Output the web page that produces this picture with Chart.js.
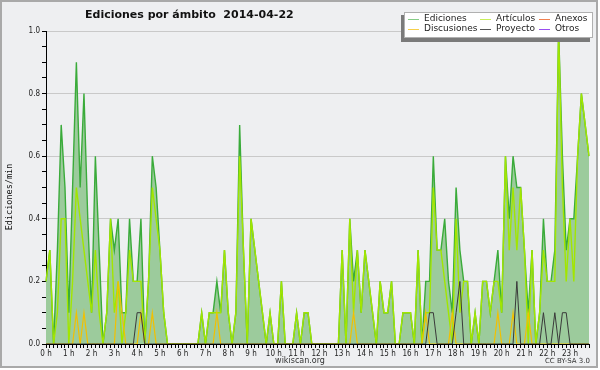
<!DOCTYPE html>
<html>
<head>
<meta charset="utf-8">
<script src="https://cdn.jsdelivr.net/npm/chart.js@4.4.1/dist/chart.umd.min.js"></script>
<style>
  html, body { margin: 0; padding: 0; background: #fff; }
  canvas { display: block; }
</style>
</head>
<body>
<canvas id="chart" width="600" height="370"></canvas>
<script>
// one slot every 10 minutes, 00:00 .. 23:50
const slots = Array.from({ length: 144 }, (_, i) =>
  String(Math.floor(i / 6)).padStart(2, "0") + ":" + String((i % 6) * 10).padStart(2, "0"));

// edits per minute
const ediciones = [
  0.2, 0.3, 0, 0.3, 0.7, 0.5, 0.1, 0.5, 0.9, 0.5,
  0.8, 0.4, 0.1, 0.6, 0.3, 0, 0.1, 0.4, 0.3, 0.4,
  0.1, 0.1, 0.4, 0.2, 0.2, 0.4, 0, 0.2, 0.6, 0.5,
  0.3, 0.1, 0, 0, 0, 0, 0, 0, 0, 0,
  0, 0.1, 0, 0.1, 0.1, 0.2, 0.1, 0.3, 0.1, 0,
  0.1, 0.7, 0.3, 0, 0.4, 0.3, 0.2, 0.1, 0, 0.1,
  0, 0, 0.2, 0, 0, 0, 0.1, 0, 0.1, 0.1,
  0, 0, 0, 0, 0, 0, 0, 0, 0.3, 0,
  0.4, 0.2, 0.3, 0.1, 0.3, 0.2, 0.1, 0, 0.2, 0.1,
  0.1, 0.2, 0, 0, 0.1, 0.1, 0.1, 0, 0.3, 0,
  0.2, 0.2, 0.6, 0.3, 0.3, 0.4, 0.2, 0.1, 0.5, 0.3,
  0.2, 0.2, 0, 0.1, 0, 0.2, 0.2, 0.1, 0.2, 0.3,
  0.1, 0.6, 0.4, 0.6, 0.5, 0.5, 0.3, 0.1, 0.3, 0,
  0.1, 0.4, 0.2, 0.2, 0.3, 1.0, 0.6, 0.3, 0.4, 0.4,
  0.6, 0.8, 0.7, 0.6
];

const articulos = [
  0.2, 0.3, 0, 0.1, 0.4, 0.4, 0, 0.2, 0.5, 0.4,
  0.3, 0.2, 0.1, 0.3, 0.1, 0, 0.1, 0.4, 0.1, 0.2,
  0, 0.1, 0.3, 0.2, 0.2, 0.2, 0, 0.2, 0.5, 0.4,
  0.3, 0.1, 0, 0, 0, 0, 0, 0, 0, 0,
  0, 0.1, 0, 0.1, 0.1, 0.1, 0.1, 0.3, 0.1, 0,
  0.1, 0.6, 0.3, 0, 0.4, 0.3, 0.2, 0.1, 0, 0.1,
  0, 0, 0.2, 0, 0, 0, 0.1, 0, 0.1, 0.1,
  0, 0, 0, 0, 0, 0, 0, 0, 0.3, 0,
  0.4, 0.1, 0.3, 0.1, 0.3, 0.2, 0.1, 0, 0.2, 0.1,
  0.1, 0.2, 0, 0, 0.1, 0.1, 0.1, 0, 0.3, 0,
  0.1, 0.1, 0.5, 0.3, 0.3, 0.2, 0.1, 0, 0.4, 0.1,
  0.2, 0.2, 0, 0.1, 0, 0.2, 0.2, 0.1, 0.2, 0.2,
  0.1, 0.6, 0.3, 0.5, 0.3, 0.5, 0.3, 0, 0.3, 0,
  0.1, 0.3, 0.2, 0.2, 0.2, 1.0, 0.5, 0.2, 0.4, 0.2,
  0.6, 0.8, 0.7, 0.6
];

const discusiones = [
  0, 0, 0, 0, 0, 0, 0, 0, 0.1, 0,
  0.1, 0, 0, 0, 0, 0, 0, 0, 0, 0.2,
  0.1, 0, 0, 0, 0, 0.1, 0, 0, 0.1, 0,
  0, 0, 0, 0, 0, 0, 0, 0, 0, 0,
  0, 0, 0, 0, 0, 0.1, 0, 0, 0, 0,
  0, 0, 0, 0, 0, 0, 0, 0, 0, 0,
  0, 0, 0, 0, 0, 0, 0, 0, 0, 0,
  0, 0, 0, 0, 0, 0, 0, 0, 0, 0,
  0, 0.1, 0, 0, 0, 0, 0, 0, 0, 0,
  0, 0, 0, 0, 0, 0, 0, 0, 0, 0,
  0.1, 0, 0, 0, 0, 0, 0, 0.1, 0, 0,
  0, 0, 0, 0, 0, 0, 0, 0, 0, 0.1,
  0, 0, 0, 0.1, 0, 0, 0, 0.1, 0, 0,
  0, 0, 0, 0, 0, 0, 0, 0, 0, 0,
  0, 0, 0, 0
];

const proyecto = [
  0, 0, 0, 0, 0, 0, 0, 0, 0, 0,
  0, 0, 0, 0, 0, 0, 0, 0, 0, 0,
  0, 0, 0, 0, 0.1, 0.1, 0, 0, 0, 0,
  0, 0, 0, 0, 0, 0, 0, 0, 0, 0,
  0, 0, 0, 0, 0, 0, 0, 0, 0, 0,
  0, 0, 0, 0, 0, 0, 0, 0, 0, 0,
  0, 0, 0, 0, 0, 0, 0, 0, 0, 0,
  0, 0, 0, 0, 0, 0, 0, 0, 0, 0,
  0, 0, 0, 0, 0, 0, 0, 0, 0, 0,
  0, 0, 0, 0, 0, 0, 0, 0, 0, 0,
  0, 0.1, 0.1, 0, 0, 0, 0, 0, 0.1, 0.2,
  0, 0, 0, 0, 0, 0, 0, 0, 0, 0,
  0, 0, 0, 0, 0.2, 0, 0, 0, 0, 0,
  0, 0.1, 0, 0, 0.1, 0, 0.1, 0.1, 0, 0,
  0, 0, 0, 0
];

// nothing visible for these two on this day
const anexos = [];
const otros = [];

const yTicks = [0, 0.2, 0.4, 0.6, 0.8, 1.0];

const SANS = "'DejaVu Sans', sans-serif";
const NARROW = "'DejaVu Sans Condensed', 'Liberation Sans Narrow', 'DejaVu Sans', sans-serif";
const MONO = "'DejaVu Sans Mono', monospace";

const isMajor = (v) => yTicks.some((t) => Math.abs(t - v) < 1e-6);

// frame, title, axis title, footer and boxed legend
const decorations = {
  id: "decorations",
  beforeDraw(chart) {
    const c = chart.ctx;
    c.save();
    c.fillStyle = "#ffffff";
    c.fillRect(0, 0, 600, 370);
    c.fillStyle = "#eeeff1";
    c.fillRect(0, 0, 598, 368);
    c.strokeStyle = "#a9a9a9";
    c.lineWidth = 2;
    c.strokeRect(1, 1, 596, 366);
    c.restore();
  },
  afterDraw(chart) {
    const c = chart.ctx;
    c.save();

    c.fillStyle = "#111";
    c.font = "bold 11px " + SANS;
    c.textBaseline = "alphabetic";
    c.fillText("Ediciones por ámbito  2014-04-22", 85, 18);

    c.save();
    c.translate(10, 197);
    c.rotate(-Math.PI / 2);
    c.textAlign = "center";
    c.textBaseline = "middle";
    c.font = "8.5px " + MONO;
    c.fillText("Ediciones/min", 0, 0);
    c.restore();

    c.fillStyle = "#333";
    c.font = "8px " + SANS;
    c.textAlign = "center";
    c.fillText("wikiscan.org", 300, 363);
    c.font = "7px " + SANS;
    c.textAlign = "right";
    c.fillText("CC BY-SA 3.0", 590, 363);

    // legend box with shadow
    c.fillStyle = "#7a7a7a";
    c.fillRect(401, 15, 189, 27);
    c.fillStyle = "#ffffff";
    c.fillRect(404, 12, 189, 26);
    c.strokeStyle = "#b0b0b0";
    c.lineWidth = 1;
    c.strokeRect(404.5, 12.5, 188, 25);

    const cols = [408, 480, 539];
    const rows = [19, 29];
    c.font = "9px " + SANS;
    c.textAlign = "left";
    c.textBaseline = "middle";
    chart.data.datasets.forEach((ds, i) => {
      const x = cols[i % 3];
      const y = rows[Math.floor(i / 3)];
      c.strokeStyle = ds.legendColor;
      c.beginPath();
      c.moveTo(x, y + 0.5);
      c.lineTo(x + 11, y + 0.5);
      c.stroke();
      c.fillStyle = "#222";
      c.fillText(ds.label, x + 16, y);
    });
    c.restore();
  },
};

new Chart(document.getElementById("chart"), {
  type: "line",
  data: {
    labels: slots,
    datasets: [
      {
        label: "Ediciones",
        data: ediciones,
        borderColor: "#3aab3a",
        backgroundColor: "#9ccb9c",
        legendColor: "#86cc86",
        fill: "origin",
        borderWidth: 1.4,
        order: 5,
      },
      {
        label: "Artículos",
        data: articulos,
        borderColor: "#a2e600",
        legendColor: "#c8ee5a",
        fill: false,
        borderWidth: 1.4,
        order: 4,
      },
      {
        label: "Anexos",
        data: anexos,
        borderColor: "#ee6a3a",
        legendColor: "#f08050",
        fill: false,
        order: 3,
      },
      {
        label: "Discusiones",
        data: discusiones,
        borderColor: "#f2c000",
        legendColor: "#f6cf4a",
        fill: false,
        borderWidth: 1.2,
        order: 2,
      },
      {
        label: "Proyecto",
        data: proyecto,
        borderColor: "#3a3a3a",
        legendColor: "#555555",
        fill: false,
        borderWidth: 1,
        order: 1,
      },
      {
        label: "Otros",
        data: otros,
        borderColor: "#9040e0",
        legendColor: "#9a4ef0",
        fill: false,
        order: 0,
      },
    ],
  },
  options: {
    responsive: false,
    animation: false,
    devicePixelRatio: 1,
    layout: { padding: { left: 0, right: 11, top: 31, bottom: 0 } },
    elements: { point: { radius: 0 }, line: { tension: 0 } },
    plugins: { legend: { display: false }, tooltip: { enabled: false } },
    scales: {
      x: {
        type: "category",
        offset: false,
        grid: { drawOnChartArea: false, tickLength: 4, tickColor: "#000", offset: false },
        border: { color: "#000", width: 1 },
        ticks: {
          autoSkip: false,
          maxRotation: 0,
          padding: 1,
          color: "#222",
          font: { family: NARROW, size: 8 },
          callback: (v, i) => (i % 6 === 0 ? i / 6 + " h" : ""),
        },
        afterFit: (s) => { s.height = 26; },
      },
      y: {
        min: 0,
        max: 1,
        ticks: {
          stepSize: 0.05,
          padding: 2,
          color: "#222",
          font: { family: NARROW, size: 8 },
          callback: (v) => (isMajor(v) ? v.toFixed(1) : ""),
        },
        grid: {
          color: (ctx) => (ctx.tick && isMajor(ctx.tick.value) ? "#c9c9c9" : "rgba(0,0,0,0)"),
          tickColor: "#000",
          tickLength: 4,
        },
        border: { color: "#000", width: 1 },
        afterFit: (s) => { s.width = 46; },
      },
    },
  },
  plugins: [decorations],
});
</script>
</body>
</html>
